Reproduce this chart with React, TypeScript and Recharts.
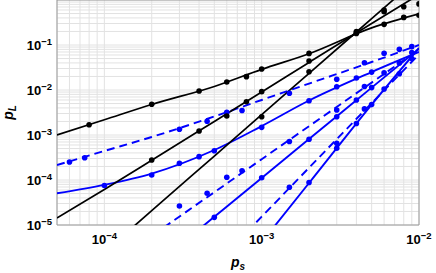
import {
  ComposedChart,
  Line,
  Scatter,
  XAxis,
  YAxis,
  CartesianGrid,
  ReferenceArea,
  Label,
} from 'recharts';

const FONT = "'Liberation Sans', Arial, sans-serif";
const BLUE = '#0000FF';
const BLACK = '#000000';

// grid lines (1..9 x 10^k)
const xGrid = [
  6e-5, 7e-5, 8e-5, 9e-5,
  1e-4, 2e-4, 3e-4, 4e-4, 5e-4, 6e-4, 7e-4, 8e-4, 9e-4,
  1e-3, 2e-3, 3e-3, 4e-3, 5e-3, 6e-3, 7e-3, 8e-3, 9e-3,
  1e-2,
];
const yGrid = [
  1e-5, 2e-5, 3e-5, 4e-5, 5e-5, 6e-5, 7e-5, 8e-5, 9e-5,
  1e-4, 2e-4, 3e-4, 4e-4, 5e-4, 6e-4, 7e-4, 8e-4, 9e-4,
  1e-3, 2e-3, 3e-3, 4e-3, 5e-3, 6e-3, 7e-3, 8e-3, 9e-3,
  1e-2, 2e-2, 3e-2, 4e-2, 5e-2, 6e-2, 7e-2, 8e-2, 9e-2,
  1e-1, 2e-1, 3e-1, 4e-1, 5e-1, 6e-1, 7e-1, 8e-1, 9e-1,
  1,
];

// fitted curves, sampled at these p_s
const fitX = [5e-5, 1e-4, 2e-4, 5e-4, 1e-3, 2e-3, 5e-3, 1e-2];
const fitBlack1 = [1.0e-3, 2.18e-3, 4.76e-3, 1.2e-2, 2.88e-2, 6.41e-2, 0.24, 0.49];
const fitBlack2 = [1.43e-5, 6.15e-5, 2.74e-4, 2.0e-3, 9.0e-3, 4.1e-2, 0.3, 1.32];
const fitBlack3 = [3.1e-7, 2.5e-6, 2.08e-5, 3.41e-4, 2.83e-3, 2.34e-2, 0.384, 3.19];
const fitDash1 = [2.15e-4, 4.41e-4, 9.03e-4, 2.58e-3, 6.0e-3, 1.39e-2, 4.19e-2, 0.1];
const fitSolid1 = [5.06e-5, 7.82e-5, 1.39e-4, 4.64e-4, 1.58e-3, 5.84e-3, 2.51e-2, 6.99e-2];
const fitDash2 = [1.99e-7, 1.06e-6, 5.73e-6, 5.36e-5, 2.9e-4, 1.57e-3, 1.46e-2, 7.9e-2];
const fitSolid2 = [2.09e-8, 1.5e-7, 1.1e-6, 1.52e-5, 1.11e-4, 8.15e-4, 1.13e-2, 8.28e-2];
const fitDash3 = [3.19e-10, 3.8e-9, 4.62e-8, 1.26e-6, 1.53e-5, 1.87e-4, 5.09e-3, 6.18e-2];
const fitSolid3 = [8.6e-12, 1.76e-10, 3.61e-9, 2.0e-7, 4.13e-6, 8.57e-5, 4.74e-3, 8.6e-2];

// simulated points
const black1X = [8e-5, 2e-4, 4e-4, 6e-4, 8e-4, 1e-3, 2e-3, 4e-3, 6e-3, 8e-3, 1e-2];
const black1Y = [1.69e-3, 4.81e-3, 9.5e-3, 1.51e-2, 1.98e-2, 2.93e-2, 6.5e-2, 0.2, 0.288, 0.41, 0.46];
const black2X = [2e-4, 4e-4, 6e-4, 8e-4, 1e-3, 2e-3, 4e-3, 6e-3, 8e-3, 1e-2];
const black2Y = [2.78e-4, 1.23e-3, 2.64e-3, 5.5e-3, 9.2e-3, 4.4e-2, 0.19, 0.55, 0.71, 0.82];
const black3X = [1e-3, 2e-3, 4e-3, 6e-3];
const black3Y = [2.55e-3, 2.55e-2, 0.18, 0.6];

const dash1X = [6e-5, 7.5e-5, 3e-4, 4.5e-4, 6e-4, 7.5e-4, 1.5e-3, 3e-3, 4.5e-3, 6e-3, 7.5e-3, 9e-3];
const dash1Y = [2.51e-4, 3.13e-4, 1.34e-3, 2.02e-3, 3.19e-3, 3.5e-3, 8.45e-3, 1.73e-2, 4.04e-2, 6.55e-2, 8.0e-2, 9.2e-2];
const solid1X = [1e-4, 2e-4, 3e-4, 4e-4, 5e-4, 1e-3, 2e-3, 3e-3, 4e-3, 5e-3];
const solid1Y = [7.55e-5, 1.29e-4, 2.35e-4, 3.3e-4, 4.48e-4, 1.48e-3, 5.78e-3, 1.18e-2, 1.85e-2, 2.5e-2];
const dash2X = [3e-4, 4.5e-4, 6e-4, 7.5e-4, 1.5e-3, 3e-3, 4.5e-3, 6e-3, 7.5e-3, 9e-3];
const dash2Y = [2.64e-5, 5.06e-5, 1.15e-4, 1.61e-4, 7.17e-4, 3.6e-3, 1.2e-2, 2.42e-2, 4.0e-2, 6.8e-2];
const solid2X = [5e-4, 1e-3, 2e-3, 3e-3, 4e-3, 5e-3];
const solid2Y = [1.48e-5, 1.12e-4, 8.02e-4, 2.55e-3, 6.0e-3, 1.13e-2];
const dash3X = [1.5e-3, 3e-3, 4.5e-3, 6e-3, 7.5e-3, 9e-3];
const dash3Y = [6.89e-5, 6.54e-4, 3.8e-3, 1.05e-2, 2.3e-2, 5.0e-2];
const solid3X = [2e-3, 3e-3, 4e-3, 5e-3];
const solid3Y = [8.8e-5, 5.06e-4, 1.8e-3, 4.74e-3];

const pts = (xs: number[], ys: number[]) => xs.map((x, i) => ({ x, y: ys[i] }));

const fits = [
  { key: 'fd1', ys: fitDash1, color: BLUE, dash: true },
  { key: 'fs1', ys: fitSolid1, color: BLUE, dash: false },
  { key: 'fd2', ys: fitDash2, color: BLUE, dash: true },
  { key: 'fs2', ys: fitSolid2, color: BLUE, dash: false },
  { key: 'fd3', ys: fitDash3, color: BLUE, dash: true },
  { key: 'fs3', ys: fitSolid3, color: BLUE, dash: false },
  { key: 'fb1', ys: fitBlack1, color: BLACK, dash: false },
  { key: 'fb2', ys: fitBlack2, color: BLACK, dash: false },
  { key: 'fb3', ys: fitBlack3, color: BLACK, dash: false },
];

const marks = [
  { key: 'd1', data: pts(dash1X, dash1Y), color: BLUE },
  { key: 's1', data: pts(solid1X, solid1Y), color: BLUE },
  { key: 'd2', data: pts(dash2X, dash2Y), color: BLUE },
  { key: 's2', data: pts(solid2X, solid2Y), color: BLUE },
  { key: 'd3', data: pts(dash3X, dash3Y), color: BLUE },
  { key: 's3', data: pts(solid3X, solid3Y), color: BLUE },
  { key: 'b1', data: pts(black1X, black1Y), color: BLACK },
  { key: 'b2', data: pts(black2X, black2Y), color: BLACK },
  { key: 'b3', data: pts(black3X, black3Y), color: BLACK },
];

const decade = (v: number) => {
  const e = Math.log10(v);
  return Math.abs(e - Math.round(e)) < 1e-6 ? Math.round(e) : null;
};

function XTick(props: any) {
  const { x, y, payload } = props;
  const e = decade(payload.value);
  if (e === null) return <g />;
  return (
    <text x={x} y={y + 10.5} textAnchor="middle" fontFamily={FONT} fontWeight="bold" fontSize={13} fill="#000">
      <tspan>10</tspan>
      <tspan dy={-5} fontSize={9.5}>{'\u2212' + -e}</tspan>
    </text>
  );
}

function YTick(props: any) {
  const { x, y, payload } = props;
  const e = decade(payload.value);
  if (e === null || e === 0) return <g />;
  return (
    <text x={x + 3} y={y + 5} textAnchor="end" fontFamily={FONT} fontWeight="bold" fontSize={13} fill="#000">
      <tspan>10</tspan>
      <tspan dy={-5} fontSize={9.5}>{'\u2212' + -e}</tspan>
    </text>
  );
}

const dot = (color: string) => (p: any) => <circle cx={p.cx} cy={p.cy} r={2.8} fill={color} />;

export default function App() {
  return (
    <div style={{ position: 'absolute', left: 0, top: 0, background: '#fff' }}>
      <ComposedChart width={436} height={273} margin={{ top: 0, right: 17, bottom: 0, left: 0 }}>
        <CartesianGrid stroke="#e2e2e2" strokeWidth={1} />
        <XAxis
          dataKey="x"
          type="number"
          scale="log"
          domain={[5e-5, 1e-2]}
          allowDataOverflow
          ticks={xGrid}
          interval={0}
          tick={<XTick />}
          tickLine={false}
          axisLine={false}
          height={48}
        >
          <Label
            content={(p: any) => (
              <text
                x={p.viewBox.x + p.viewBox.width / 2}
                y={p.viewBox.y + 42}
                textAnchor="middle"
                fontFamily={FONT}
                fontWeight="bold"
                fontStyle="italic"
                fontSize={14}
                fill="#000"
              >
                <tspan>p</tspan>
                <tspan dy={3} fontSize={10}>s</tspan>
              </text>
            )}
          />
        </XAxis>
        <YAxis
          dataKey="y"
          type="number"
          scale="log"
          domain={[1e-5, 1]}
          allowDataOverflow
          ticks={yGrid}
          interval={0}
          tick={<YTick />}
          tickLine={false}
          axisLine={false}
          width={57}
        >
          <Label
            content={(p: any) => {
              const cy = p.viewBox.y + p.viewBox.height / 2;
              return (
                <text
                  x={13}
                  y={cy}
                  transform={`rotate(-90 13 ${cy})`}
                  textAnchor="middle"
                  fontFamily={FONT}
                  fontWeight="bold"
                  fontStyle="italic"
                  fontSize={14}
                  fill="#000"
                >
                  <tspan>p</tspan>
                  <tspan dy={3} fontSize={10}>L</tspan>
                </text>
              );
            }}
          />
        </YAxis>
        <ReferenceArea x1={5e-5} x2={1e-2} y1={1e-5} y2={1} fill="none" stroke="#9a9a9a" strokeWidth={1} ifOverflow="visible" />
        {fits.map((f) => (
          <Line
            key={f.key}
            data={pts(fitX, f.ys)}
            dataKey="y"
            type="monotone"
            stroke={f.color}
            strokeWidth={f.color === BLUE ? 1.9 : 1.7}
            strokeDasharray={f.dash ? '8 5' : undefined}
            dot={false}
            activeDot={false}
            isAnimationActive={false}
          />
        ))}
        {marks.map((m) => (
          <Scatter key={m.key} data={m.data} fill={m.color} shape={dot(m.color)} isAnimationActive={false} />
        ))}
      </ComposedChart>
    </div>
  );
}
